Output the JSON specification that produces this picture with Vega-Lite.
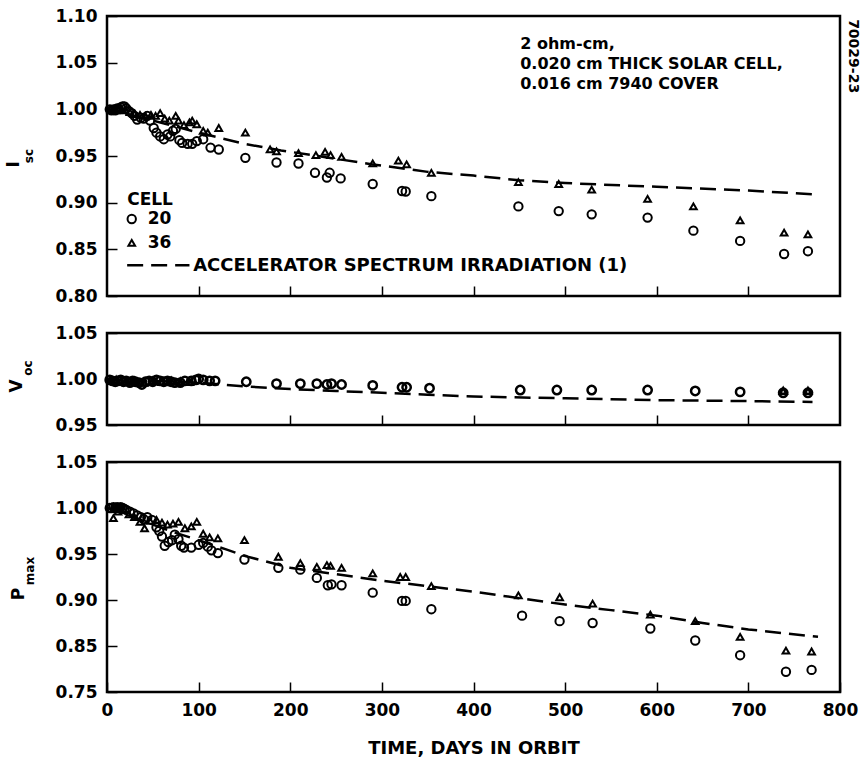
{
  "$schema": "https://vega.github.io/schema/vega-lite/v6.json",
  "background": "white",
  "padding": {"left": 4, "top": 5, "right": 5, "bottom": 5},
  "spacing": 37,
  "bounds": "flush",
  "config": {
    "font": "DejaVu Sans",
    "view": {"stroke": "black", "strokeWidth": 2.5},
    "axis": {
      "domain": false,
      "grid": false,
      "ticks": true,
      "tickColor": "black",
      "tickWidth": 1.5,
      "tickSize": -10,
      "labelColor": "black",
      "labelFont": "DejaVu Sans",
      "labelFontWeight": "bold",
      "labelFontSize": 17,
      "labelPadding": 20,
      "labelFlush": false,
      "titleColor": "black",
      "titleFont": "DejaVu Sans",
      "titleFontWeight": "bold",
      "titleFontSize": 18
    },
    "point": {"opacity": 1},
    "text": {"font": "DejaVu Sans", "fontWeight": "bold", "color": "black"}
  },
  "datasets": {
    "isc_pts": [
      {"cell": "20", "day": 3, "value": 1.000}, {"cell": "20", "day": 5, "value": 0.999}, {"cell": "20", "day": 7, "value": 1.000},
      {"cell": "20", "day": 9, "value": 0.999}, {"cell": "20", "day": 11, "value": 1.001}, {"cell": "20", "day": 13, "value": 1.000},
      {"cell": "20", "day": 15, "value": 1.002}, {"cell": "20", "day": 17, "value": 1.003}, {"cell": "20", "day": 19, "value": 1.003},
      {"cell": "20", "day": 21, "value": 1.001}, {"cell": "20", "day": 24, "value": 0.998}, {"cell": "20", "day": 27, "value": 0.996},
      {"cell": "20", "day": 30, "value": 0.993}, {"cell": "20", "day": 33, "value": 0.989}, {"cell": "20", "day": 37, "value": 0.991},
      {"cell": "20", "day": 40, "value": 0.990}, {"cell": "20", "day": 44, "value": 0.993}, {"cell": "20", "day": 47, "value": 0.988},
      {"cell": "20", "day": 51, "value": 0.980}, {"cell": "20", "day": 54, "value": 0.975}, {"cell": "20", "day": 58, "value": 0.971},
      {"cell": "20", "day": 62, "value": 0.968}, {"cell": "20", "day": 66, "value": 0.973}, {"cell": "20", "day": 69, "value": 0.971},
      {"cell": "20", "day": 72, "value": 0.977}, {"cell": "20", "day": 75, "value": 0.979}, {"cell": "20", "day": 79, "value": 0.967},
      {"cell": "20", "day": 82, "value": 0.964}, {"cell": "20", "day": 88, "value": 0.963}, {"cell": "20", "day": 93, "value": 0.963},
      {"cell": "20", "day": 98, "value": 0.966}, {"cell": "20", "day": 105, "value": 0.968}, {"cell": "20", "day": 113, "value": 0.959},
      {"cell": "20", "day": 122, "value": 0.957}, {"cell": "20", "day": 151, "value": 0.948}, {"cell": "20", "day": 185, "value": 0.943},
      {"cell": "20", "day": 209, "value": 0.942}, {"cell": "20", "day": 227, "value": 0.932}, {"cell": "20", "day": 240, "value": 0.927},
      {"cell": "20", "day": 243, "value": 0.932}, {"cell": "20", "day": 255, "value": 0.926}, {"cell": "20", "day": 290, "value": 0.920},
      {"cell": "20", "day": 322, "value": 0.9125}, {"cell": "20", "day": 326, "value": 0.912}, {"cell": "20", "day": 354, "value": 0.907},
      {"cell": "20", "day": 449, "value": 0.896}, {"cell": "20", "day": 493, "value": 0.891}, {"cell": "20", "day": 529, "value": 0.8875},
      {"cell": "20", "day": 590, "value": 0.884}, {"cell": "20", "day": 640, "value": 0.870}, {"cell": "20", "day": 691, "value": 0.859},
      {"cell": "20", "day": 739, "value": 0.845}, {"cell": "20", "day": 765, "value": 0.848},
      {"cell": "36", "day": 4, "value": 1.000}, {"cell": "36", "day": 8, "value": 1.000}, {"cell": "36", "day": 12, "value": 1.001},
      {"cell": "36", "day": 16, "value": 1.000}, {"cell": "36", "day": 20, "value": 0.999}, {"cell": "36", "day": 25, "value": 0.997},
      {"cell": "36", "day": 30, "value": 0.995}, {"cell": "36", "day": 36, "value": 0.994}, {"cell": "36", "day": 42, "value": 0.993},
      {"cell": "36", "day": 48, "value": 0.994}, {"cell": "36", "day": 53, "value": 0.993}, {"cell": "36", "day": 58, "value": 0.996},
      {"cell": "36", "day": 63, "value": 0.990}, {"cell": "36", "day": 68, "value": 0.988}, {"cell": "36", "day": 75, "value": 0.993},
      {"cell": "36", "day": 78, "value": 0.988}, {"cell": "36", "day": 84, "value": 0.983}, {"cell": "36", "day": 90, "value": 0.986},
      {"cell": "36", "day": 93, "value": 0.988}, {"cell": "36", "day": 98, "value": 0.984}, {"cell": "36", "day": 105, "value": 0.977},
      {"cell": "36", "day": 110, "value": 0.975}, {"cell": "36", "day": 122, "value": 0.980}, {"cell": "36", "day": 151, "value": 0.975},
      {"cell": "36", "day": 178, "value": 0.957}, {"cell": "36", "day": 185, "value": 0.955}, {"cell": "36", "day": 209, "value": 0.953},
      {"cell": "36", "day": 228, "value": 0.951}, {"cell": "36", "day": 238, "value": 0.9545}, {"cell": "36", "day": 244, "value": 0.951},
      {"cell": "36", "day": 256, "value": 0.949}, {"cell": "36", "day": 290, "value": 0.942}, {"cell": "36", "day": 318, "value": 0.945},
      {"cell": "36", "day": 327, "value": 0.941}, {"cell": "36", "day": 354, "value": 0.932}, {"cell": "36", "day": 449, "value": 0.922},
      {"cell": "36", "day": 493, "value": 0.920}, {"cell": "36", "day": 529, "value": 0.914}, {"cell": "36", "day": 590, "value": 0.904},
      {"cell": "36", "day": 640, "value": 0.896}, {"cell": "36", "day": 691, "value": 0.881}, {"cell": "36", "day": 739, "value": 0.868},
      {"cell": "36", "day": 765, "value": 0.866}
    ],
    "isc_fit": [
      {"day": 0, "value": 1.000}, {"day": 50, "value": 0.988}, {"day": 100, "value": 0.975}, {"day": 150, "value": 0.963},
      {"day": 190, "value": 0.956}, {"day": 250, "value": 0.947}, {"day": 290, "value": 0.941}, {"day": 350, "value": 0.933},
      {"day": 400, "value": 0.929}, {"day": 450, "value": 0.924}, {"day": 500, "value": 0.921}, {"day": 600, "value": 0.917},
      {"day": 700, "value": 0.913}, {"day": 770, "value": 0.909}
    ],
    "voc_pts": [
      {"cell": "20", "day": 3, "value": 0.999}, {"cell": "20", "day": 6, "value": 0.998}, {"cell": "20", "day": 9, "value": 0.997},
      {"cell": "20", "day": 12, "value": 0.998}, {"cell": "20", "day": 15, "value": 0.999}, {"cell": "20", "day": 18, "value": 0.997},
      {"cell": "20", "day": 21, "value": 0.998}, {"cell": "20", "day": 25, "value": 0.996}, {"cell": "20", "day": 28, "value": 0.998},
      {"cell": "20", "day": 31, "value": 0.997}, {"cell": "20", "day": 35, "value": 0.996}, {"cell": "20", "day": 38, "value": 0.994},
      {"cell": "20", "day": 42, "value": 0.997}, {"cell": "20", "day": 46, "value": 0.998}, {"cell": "20", "day": 50, "value": 0.997},
      {"cell": "20", "day": 54, "value": 0.999}, {"cell": "20", "day": 58, "value": 0.998}, {"cell": "20", "day": 62, "value": 0.997},
      {"cell": "20", "day": 66, "value": 0.998}, {"cell": "20", "day": 70, "value": 0.997}, {"cell": "20", "day": 74, "value": 0.996},
      {"cell": "20", "day": 80, "value": 0.996}, {"cell": "20", "day": 85, "value": 0.998}, {"cell": "20", "day": 92, "value": 0.998},
      {"cell": "20", "day": 97, "value": 0.999}, {"cell": "20", "day": 100, "value": 1.000}, {"cell": "20", "day": 105, "value": 0.999},
      {"cell": "20", "day": 112, "value": 0.998}, {"cell": "20", "day": 118, "value": 0.998}, {"cell": "20", "day": 152, "value": 0.997},
      {"cell": "20", "day": 185, "value": 0.995}, {"cell": "20", "day": 211, "value": 0.995}, {"cell": "20", "day": 229, "value": 0.995},
      {"cell": "20", "day": 240, "value": 0.994}, {"cell": "20", "day": 245, "value": 0.995}, {"cell": "20", "day": 256, "value": 0.994},
      {"cell": "20", "day": 290, "value": 0.993}, {"cell": "20", "day": 322, "value": 0.991}, {"cell": "20", "day": 327, "value": 0.991},
      {"cell": "20", "day": 352, "value": 0.990}, {"cell": "20", "day": 451, "value": 0.988}, {"cell": "20", "day": 491, "value": 0.988},
      {"cell": "20", "day": 529, "value": 0.988}, {"cell": "20", "day": 590, "value": 0.988}, {"cell": "20", "day": 642, "value": 0.987},
      {"cell": "20", "day": 691, "value": 0.986}, {"cell": "20", "day": 738, "value": 0.985}, {"cell": "20", "day": 765, "value": 0.985},
      {"cell": "36", "day": 5, "value": 0.998}, {"cell": "36", "day": 10, "value": 0.999}, {"cell": "36", "day": 20, "value": 0.997},
      {"cell": "36", "day": 30, "value": 0.998}, {"cell": "36", "day": 40, "value": 0.996}, {"cell": "36", "day": 50, "value": 0.998},
      {"cell": "36", "day": 60, "value": 0.997}, {"cell": "36", "day": 70, "value": 0.998}, {"cell": "36", "day": 80, "value": 0.997},
      {"cell": "36", "day": 90, "value": 0.997}, {"cell": "36", "day": 738, "value": 0.987}, {"cell": "36", "day": 765, "value": 0.987}
    ],
    "voc_fit": [
      {"day": 0, "value": 0.999}, {"day": 50, "value": 0.998}, {"day": 100, "value": 0.996}, {"day": 150, "value": 0.992},
      {"day": 200, "value": 0.989}, {"day": 250, "value": 0.987}, {"day": 300, "value": 0.985}, {"day": 350, "value": 0.983},
      {"day": 400, "value": 0.981}, {"day": 500, "value": 0.979}, {"day": 600, "value": 0.977}, {"day": 700, "value": 0.976},
      {"day": 770, "value": 0.975}
    ],
    "pmax_pts": [
      {"cell": "20", "day": 3, "value": 1.000}, {"cell": "20", "day": 5, "value": 1.000}, {"cell": "20", "day": 7, "value": 1.001},
      {"cell": "20", "day": 9, "value": 1.000}, {"cell": "20", "day": 11, "value": 1.001}, {"cell": "20", "day": 13, "value": 1.000},
      {"cell": "20", "day": 15, "value": 1.001}, {"cell": "20", "day": 17, "value": 1.000}, {"cell": "20", "day": 19, "value": 0.999},
      {"cell": "20", "day": 21, "value": 0.998}, {"cell": "20", "day": 25, "value": 0.996}, {"cell": "20", "day": 29, "value": 0.994},
      {"cell": "20", "day": 33, "value": 0.992}, {"cell": "20", "day": 37, "value": 0.990}, {"cell": "20", "day": 40, "value": 0.988},
      {"cell": "20", "day": 44, "value": 0.990}, {"cell": "20", "day": 49, "value": 0.987}, {"cell": "20", "day": 54, "value": 0.979},
      {"cell": "20", "day": 57, "value": 0.975}, {"cell": "20", "day": 60, "value": 0.969}, {"cell": "20", "day": 63, "value": 0.959},
      {"cell": "20", "day": 67, "value": 0.963}, {"cell": "20", "day": 71, "value": 0.965}, {"cell": "20", "day": 74, "value": 0.971},
      {"cell": "20", "day": 78, "value": 0.966}, {"cell": "20", "day": 81, "value": 0.959}, {"cell": "20", "day": 84, "value": 0.957},
      {"cell": "20", "day": 92, "value": 0.957}, {"cell": "20", "day": 100, "value": 0.960}, {"cell": "20", "day": 105, "value": 0.962},
      {"cell": "20", "day": 110, "value": 0.958}, {"cell": "20", "day": 114, "value": 0.954}, {"cell": "20", "day": 121, "value": 0.951},
      {"cell": "20", "day": 150, "value": 0.944}, {"cell": "20", "day": 187, "value": 0.935}, {"cell": "20", "day": 211, "value": 0.933},
      {"cell": "20", "day": 229, "value": 0.924}, {"cell": "20", "day": 241, "value": 0.916}, {"cell": "20", "day": 245, "value": 0.917},
      {"cell": "20", "day": 256, "value": 0.916}, {"cell": "20", "day": 290, "value": 0.908}, {"cell": "20", "day": 322, "value": 0.899},
      {"cell": "20", "day": 326, "value": 0.899}, {"cell": "20", "day": 354, "value": 0.890}, {"cell": "20", "day": 453, "value": 0.883},
      {"cell": "20", "day": 494, "value": 0.877}, {"cell": "20", "day": 530, "value": 0.875}, {"cell": "20", "day": 593, "value": 0.869},
      {"cell": "20", "day": 642, "value": 0.856}, {"cell": "20", "day": 691, "value": 0.840}, {"cell": "20", "day": 741, "value": 0.822},
      {"cell": "20", "day": 769, "value": 0.824},
      {"cell": "36", "day": 7, "value": 0.989}, {"cell": "36", "day": 12, "value": 0.996}, {"cell": "36", "day": 18, "value": 0.998},
      {"cell": "36", "day": 24, "value": 0.993}, {"cell": "36", "day": 30, "value": 0.990}, {"cell": "36", "day": 36, "value": 0.985},
      {"cell": "36", "day": 41, "value": 0.978}, {"cell": "36", "day": 47, "value": 0.986}, {"cell": "36", "day": 54, "value": 0.987},
      {"cell": "36", "day": 60, "value": 0.984}, {"cell": "36", "day": 66, "value": 0.982}, {"cell": "36", "day": 72, "value": 0.983},
      {"cell": "36", "day": 78, "value": 0.985}, {"cell": "36", "day": 85, "value": 0.978}, {"cell": "36", "day": 92, "value": 0.980},
      {"cell": "36", "day": 98, "value": 0.985}, {"cell": "36", "day": 105, "value": 0.972}, {"cell": "36", "day": 112, "value": 0.968},
      {"cell": "36", "day": 121, "value": 0.967}, {"cell": "36", "day": 150, "value": 0.965}, {"cell": "36", "day": 187, "value": 0.947},
      {"cell": "36", "day": 211, "value": 0.940}, {"cell": "36", "day": 229, "value": 0.936}, {"cell": "36", "day": 240, "value": 0.938},
      {"cell": "36", "day": 244, "value": 0.937}, {"cell": "36", "day": 256, "value": 0.935}, {"cell": "36", "day": 290, "value": 0.929},
      {"cell": "36", "day": 320, "value": 0.925}, {"cell": "36", "day": 326, "value": 0.925}, {"cell": "36", "day": 354, "value": 0.915},
      {"cell": "36", "day": 449, "value": 0.905}, {"cell": "36", "day": 494, "value": 0.903}, {"cell": "36", "day": 530, "value": 0.896},
      {"cell": "36", "day": 593, "value": 0.884}, {"cell": "36", "day": 642, "value": 0.877}, {"cell": "36", "day": 691, "value": 0.860},
      {"cell": "36", "day": 741, "value": 0.845}, {"cell": "36", "day": 769, "value": 0.844}
    ],
    "pmax_fit": [
      {"day": 0, "value": 1.000}, {"day": 25, "value": 0.992}, {"day": 50, "value": 0.982}, {"day": 75, "value": 0.973},
      {"day": 100, "value": 0.965}, {"day": 130, "value": 0.955}, {"day": 150, "value": 0.948}, {"day": 200, "value": 0.935},
      {"day": 250, "value": 0.928}, {"day": 300, "value": 0.921}, {"day": 350, "value": 0.915}, {"day": 400, "value": 0.909},
      {"day": 450, "value": 0.902}, {"day": 500, "value": 0.895}, {"day": 550, "value": 0.889}, {"day": 600, "value": 0.883},
      {"day": 650, "value": 0.875}, {"day": 700, "value": 0.868}, {"day": 776, "value": 0.860}
    ],
    "legend_cells": [
      {"cell": "20", "day": 27, "value": 0.8825},
      {"cell": "36", "day": 27, "value": 0.857}
    ],
    "legend_dash": [
      {"day": 22, "value": 0.833},
      {"day": 90, "value": 0.833}
    ],
    "one": [{}]
  },
  "vconcat": [
    {
      "width": 733,
      "height": 280,
      "layer": [
        {
          "data": {"name": "isc_fit"},
          "mark": {"type": "line", "color": "black", "strokeWidth": 2.5, "strokeDash": [16, 8]},
          "encoding": {
            "x": {"field": "day", "type": "quantitative", "scale": {"domain": [0, 800], "nice": false, "zero": false},
                  "axis": {"values": [100, 200, 300, 400, 500, 600, 700], "labels": false, "title": null}},
            "y": {"field": "value", "type": "quantitative", "scale": {"domain": [0.8, 1.1], "nice": false, "zero": false},
                  "axis": {"values": [0.8, 0.85, 0.9, 0.95, 1.0, 1.05, 1.1], "format": ".2f", "title": null}}
          }
        },
        {
          "data": {"name": "isc_pts"},
          "mark": {"type": "point", "filled": false, "color": "black", "strokeWidth": 2},
          "encoding": {
            "x": {"field": "day", "type": "quantitative"},
            "y": {"field": "value", "type": "quantitative"},
            "shape": {"field": "cell", "type": "nominal", "scale": {"domain": ["20", "36"], "range": ["circle", "triangle-up"]}, "legend": null},
            "size": {"field": "cell", "type": "ordinal", "scale": {"domain": ["20", "36"], "range": [70, 45]}, "legend": null}
          }
        },
        {
          "data": {"name": "legend_cells"},
          "mark": {"type": "point", "filled": false, "color": "black", "strokeWidth": 2},
          "encoding": {
            "x": {"field": "day", "type": "quantitative"},
            "y": {"field": "value", "type": "quantitative"},
            "shape": {"field": "cell", "type": "nominal", "scale": {"domain": ["20", "36"], "range": ["circle", "triangle-up"]}, "legend": null},
            "size": {"field": "cell", "type": "ordinal", "scale": {"domain": ["20", "36"], "range": [70, 45]}, "legend": null}
          }
        },
        {
          "data": {"name": "legend_cells"},
          "mark": {"type": "text", "align": "left", "baseline": "middle", "fontSize": 17, "dx": 16},
          "encoding": {
            "x": {"field": "day", "type": "quantitative"},
            "y": {"field": "value", "type": "quantitative"},
            "text": {"field": "cell"}
          }
        },
        {
          "data": {"name": "legend_dash"},
          "mark": {"type": "line", "color": "black", "strokeWidth": 2.5, "strokeDash": [16, 8]},
          "encoding": {
            "x": {"field": "day", "type": "quantitative"},
            "y": {"field": "value", "type": "quantitative"}
          }
        },
        {
          "data": {"name": "one"},
          "mark": {"type": "text", "align": "left", "baseline": "middle", "fontSize": 17, "text": "CELL"},
          "encoding": {"x": {"datum": 22}, "y": {"datum": 0.903}}
        },
        {
          "data": {"name": "one"},
          "mark": {"type": "text", "align": "left", "baseline": "middle", "fontSize": 18, "text": "ACCELERATOR SPECTRUM IRRADIATION (1)"},
          "encoding": {"x": {"datum": 94}, "y": {"datum": 0.832}}
        },
        {
          "data": {"name": "one"},
          "mark": {"type": "text", "align": "left", "baseline": "middle", "fontSize": 16, "text": "2 ohm-cm,"},
          "encoding": {"x": {"datum": 451}, "y": {"datum": 1.070}}
        },
        {
          "data": {"name": "one"},
          "mark": {"type": "text", "align": "left", "baseline": "middle", "fontSize": 16, "text": "0.020 cm THICK SOLAR CELL,"},
          "encoding": {"x": {"datum": 451}, "y": {"datum": 1.0486}}
        },
        {
          "data": {"name": "one"},
          "mark": {"type": "text", "align": "left", "baseline": "middle", "fontSize": 16, "text": "0.016 cm 7940 COVER"},
          "encoding": {"x": {"datum": 451}, "y": {"datum": 1.0271}}
        },
        {
          "data": {"name": "one"},
          "mark": {"type": "text", "align": "center", "baseline": "middle", "fontSize": 14, "angle": 90, "text": "70029-23"},
          "encoding": {"x": {"datum": 814}, "y": {"datum": 1.057}}
        },
        {
          "data": {"name": "one"},
          "mark": {"type": "text", "align": "center", "baseline": "middle", "fontSize": 17, "angle": 270, "text": "I"},
          "encoding": {"x": {"datum": -101}, "y": {"datum": 0.941}}
        },
        {
          "data": {"name": "one"},
          "mark": {"type": "text", "align": "center", "baseline": "middle", "fontSize": 12, "angle": 270, "text": "sc"},
          "encoding": {"x": {"datum": -85}, "y": {"datum": 0.950}}
        }
      ]
    },
    {
      "width": 733,
      "height": 92,
      "layer": [
        {
          "data": {"name": "voc_fit"},
          "mark": {"type": "line", "color": "black", "strokeWidth": 2.5, "strokeDash": [16, 8]},
          "encoding": {
            "x": {"field": "day", "type": "quantitative", "scale": {"domain": [0, 800], "nice": false, "zero": false},
                  "axis": {"values": [100, 200, 300, 400, 500, 600, 700], "labels": false, "title": null}},
            "y": {"field": "value", "type": "quantitative", "scale": {"domain": [0.95, 1.05], "nice": false, "zero": false},
                  "axis": {"values": [0.95, 1.0, 1.05], "format": ".2f", "title": null}}
          }
        },
        {
          "data": {"name": "voc_pts"},
          "mark": {"type": "point", "filled": false, "color": "black", "strokeWidth": 2.5},
          "encoding": {
            "x": {"field": "day", "type": "quantitative"},
            "y": {"field": "value", "type": "quantitative"},
            "shape": {"field": "cell", "type": "nominal", "scale": {"domain": ["20", "36"], "range": ["circle", "triangle-up"]}, "legend": null},
            "size": {"field": "cell", "type": "ordinal", "scale": {"domain": ["20", "36"], "range": [50, 35]}, "legend": null}
          }
        },
        {
          "data": {"name": "one"},
          "mark": {"type": "text", "align": "center", "baseline": "middle", "fontSize": 17, "angle": 270, "text": "V"},
          "encoding": {"x": {"datum": -98}, "y": {"datum": 0.9924}}
        },
        {
          "data": {"name": "one"},
          "mark": {"type": "text", "align": "center", "baseline": "middle", "fontSize": 12, "angle": 270, "text": "oc"},
          "encoding": {"x": {"datum": -86}, "y": {"datum": 1.012}}
        }
      ]
    },
    {
      "width": 733,
      "height": 230,
      "layer": [
        {
          "data": {"name": "pmax_fit"},
          "mark": {"type": "line", "color": "black", "strokeWidth": 2.5, "strokeDash": [16, 8]},
          "encoding": {
            "x": {"field": "day", "type": "quantitative", "scale": {"domain": [0, 800], "nice": false, "zero": false},
                  "axis": {"values": [0, 100, 200, 300, 400, 500, 600, 700, 800], "format": "d",
                           "title": "TIME, DAYS IN ORBIT", "titlePadding": 21}},
            "y": {"field": "value", "type": "quantitative", "scale": {"domain": [0.8, 1.05], "nice": false, "zero": false},
                  "axis": {"values": [0.8, 0.85, 0.9, 0.95, 1.0, 1.05], "title": null,
                           "labelExpr": "datum.value < 0.81 ? '0.75' : format(datum.value, '.2f')"}}
          }
        },
        {
          "data": {"name": "pmax_pts"},
          "mark": {"type": "point", "filled": false, "color": "black", "strokeWidth": 2},
          "encoding": {
            "x": {"field": "day", "type": "quantitative"},
            "y": {"field": "value", "type": "quantitative"},
            "shape": {"field": "cell", "type": "nominal", "scale": {"domain": ["20", "36"], "range": ["circle", "triangle-up"]}, "legend": null},
            "size": {"field": "cell", "type": "ordinal", "scale": {"domain": ["20", "36"], "range": [70, 45]}, "legend": null}
          }
        },
        {
          "data": {"name": "one"},
          "mark": {"type": "text", "align": "center", "baseline": "middle", "fontSize": 17, "angle": 270, "text": "P"},
          "encoding": {"x": {"datum": -96}, "y": {"datum": 0.9065}}
        },
        {
          "data": {"name": "one"},
          "mark": {"type": "text", "align": "center", "baseline": "middle", "fontSize": 12, "angle": 270, "text": "max"},
          "encoding": {"x": {"datum": -84}, "y": {"datum": 0.9315}}
        }
      ]
    }
  ]
}
